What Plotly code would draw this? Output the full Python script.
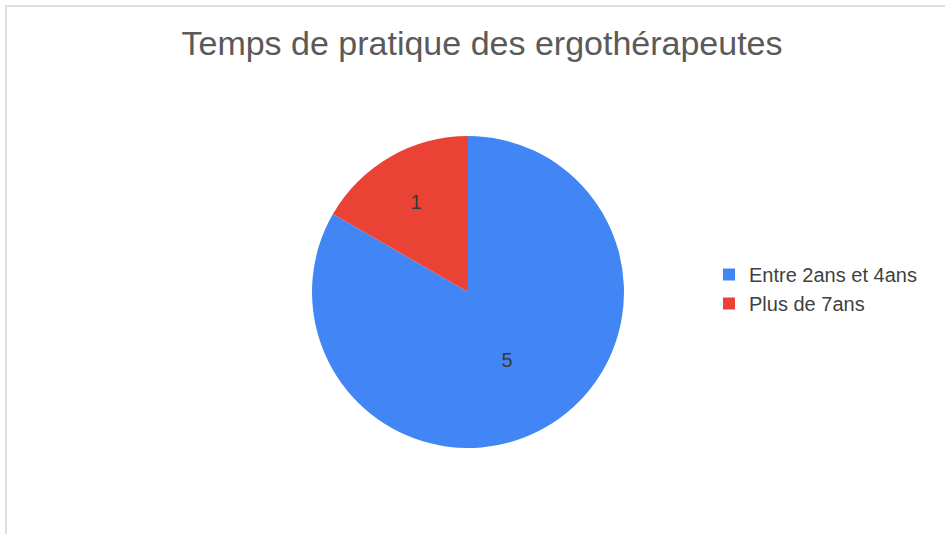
import plotly.graph_objects as go

categories = ["Entre 2ans et 4ans", "Plus de 7ans"]
values = [5, 1]
colors = ["#4285F4", "#EA4335"]
title_text = "Temps de pratique des ergothérapeutes"

W, H = 945, 534
cx, cy, r = 468, 292, 156
FONT = "Liberation Sans, Arial, sans-serif"

fig = go.Figure()
fig.add_trace(go.Pie(
    labels=categories,
    values=values,
    marker=dict(colors=colors, line=dict(width=0)),
    sort=False,
    direction="clockwise",
    rotation=0,
    textinfo="value",
    textposition="inside",
    insidetextorientation="horizontal",
    textfont=dict(family=FONT, size=20, color="#3a3a3a"),
    hoverinfo="label+value+percent",
    domain=dict(x=[(cx - r) / W, (cx + r) / W], y=[1 - (cy + r) / H, 1 - (cy - r) / H]),
))

fig.update_layout(
    width=W, height=H,
    margin=dict(l=0, r=0, t=0, b=0),
    paper_bgcolor="white",
    plot_bgcolor="white",
    title=dict(text=title_text, x=482 / W, xanchor="center", y=1 - 43 / H, yanchor="middle",
               font=dict(family=FONT, size=34, color="#5a5a5a")),
    legend=dict(x=709 / W, xanchor="left", y=1 - 289 / H, yanchor="middle",
                font=dict(family=FONT, size=20, color="#3f3f3f"),
                bgcolor="rgba(0,0,0,0)"),
    showlegend=True,
    shapes=[
        dict(type="line", xref="paper", yref="paper", x0=5 / W, x1=1, y0=1 - 6 / H, y1=1 - 6 / H,
             line=dict(color="#e0e0e0", width=2)),
        dict(type="line", xref="paper", yref="paper", x0=6 / W, x1=6 / W, y0=0, y1=1 - 5 / H,
             line=dict(color="#e0e0e0", width=2)),
    ],
)

fig.write_html("out.html", config={"displayModeBar": False},
               post_script="document.body.style.margin='0';document.body.style.padding='0';")
